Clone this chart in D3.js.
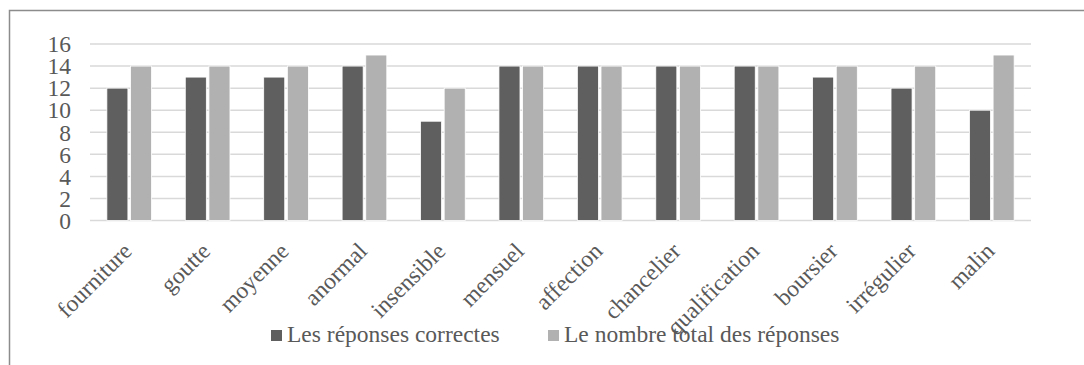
<!DOCTYPE html>
<html>
<head>
<meta charset="utf-8">
<script src="https://cdn.jsdelivr.net/npm/d3@7"></script>
<style>
  html, body { margin: 0; padding: 0; background: #fff; }
  svg { display: block; }
</style>
</head>
<body>
<svg id="chart" width="1084" height="365" font-family="Liberation Serif"></svg>
<script>
// Word list and counts of answers per word
const categories = ["fourniture", "goutte", "moyenne", "anormal", "insensible", "mensuel",
  "affection", "chancelier", "qualification", "boursier", "irrégulier", "malin"];
const correctAnswers = [12, 13, 13, 14, 9, 14, 14, 14, 14, 13, 12, 10];
const totalAnswers = [14, 14, 14, 15, 12, 14, 14, 14, 14, 14, 14, 15];
const seriesNames = ["Les réponses correctes", "Le nombre total des réponses"];
const yTicks = [0, 2, 4, 6, 8, 10, 12, 14, 16];

const seriesColors = ["#5f5f5f", "#b1b1b1"];
const FONT = "Liberation Serif";
const FONT_SIZE = 23.5;
const TEXT_COLOR = "#595959";
const svg = d3.select("#chart");

// Outer chart frame
svg.append("rect")
  .attr("x", 9.5).attr("y", 10.5)
  .attr("width", 1090).attr("height", 370)
  .attr("fill", "none").attr("stroke", "#8c8c8c").attr("stroke-width", 1.5);

const plot = { left: 90, right: 1031, top: 44, bottom: 220.5 };

const y = d3.scaleLinear().domain([0, 16]).range([plot.bottom, plot.top]);
const x0 = d3.scaleBand().domain(categories)
  .range([plot.left, plot.right]).paddingInner(0.43).paddingOuter(0.215);
const x1 = d3.scaleBand().domain([0, 1])
  .range([0, x0.bandwidth()]).paddingInner(0.11);

// Horizontal gridlines
svg.append("g")
  .selectAll("line").data(yTicks).join("line")
  .attr("x1", plot.left).attr("x2", plot.right)
  .attr("y1", d => y(d)).attr("y2", d => y(d))
  .attr("stroke", "#d9d9d9").attr("stroke-width", 1.5);

function styleText(sel) {
  sel.attr("font-family", FONT).attr("font-size", FONT_SIZE).attr("fill", TEXT_COLOR)
    .style("font-family", FONT);
}

// Y axis labels
const yAxis = d3.axisLeft(y).tickValues(yTicks).tickSize(0).tickPadding(0);
const yg = svg.append("g").attr("transform", "translate(71,0)").call(yAxis);
yg.attr("font-family", FONT).attr("font-size", FONT_SIZE);
yg.select(".domain").remove();
yg.selectAll("text").call(styleText).attr("dy", "0.33em");

// Bars
const rows = categories.map((c, i) => ({ c, vals: [correctAnswers[i], totalAnswers[i]] }));
const groups = svg.append("g").selectAll("g").data(rows).join("g")
  .attr("transform", d => `translate(${x0(d.c)},0)`);
groups.selectAll("rect").data(d => d.vals.map((v, k) => ({ v, k }))).join("rect")
  .attr("x", d => x1(d.k))
  .attr("width", x1.bandwidth())
  .attr("y", d => y(d.v))
  .attr("height", d => y(0) - y(d.v))
  .attr("fill", d => seriesColors[d.k])
  .attr("stroke", "#ffffff").attr("stroke-width", 0.8);

// Category labels, rotated
const xAxis = d3.axisBottom(x0).tickSize(0).tickPadding(0);
const xg = svg.append("g").attr("transform", `translate(0,${plot.bottom})`).call(xAxis);
xg.attr("font-family", FONT).attr("font-size", FONT_SIZE);
xg.select(".domain").remove();
xg.selectAll("text").call(styleText)
  .attr("text-anchor", "end")
  .attr("dy", null)
  .attr("y", 0)
  .attr("transform", "translate(4,32) rotate(-45)");

// Legend
const legend = svg.append("g");
const legendX = [271, 548];
seriesNames.forEach((name, k) => {
  legend.append("rect")
    .attr("x", legendX[k]).attr("y", 330)
    .attr("width", 11).attr("height", 11)
    .attr("fill", seriesColors[k]);
  legend.append("text")
    .attr("x", legendX[k] + 16).attr("y", 342)
    .call(styleText)
    .text(name);
});
</script>
</body>
</html>
